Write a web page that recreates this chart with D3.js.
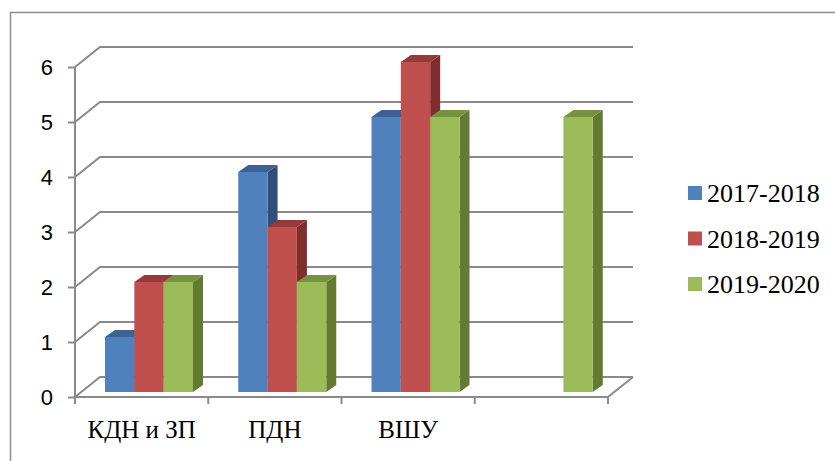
<!DOCTYPE html>
<html><head><meta charset="utf-8">
<script src="https://cdn.jsdelivr.net/npm/d3@7/dist/d3.min.js"></script>
<style>html,body{margin:0;padding:0;background:#fff;}svg{display:block;}</style>
</head><body>
<svg id="c" width="835" height="461"></svg>
<script>
const categories = ["КДН и ЗП", "ПДН", "ВШУ", ""];
const seriesNames = ["2017-2018", "2018-2019", "2019-2020"];
const s2017 = [1, 4, 5, null];
const s2018 = [2, 3, 6, null];
const s2019 = [2, 2, 5, 5];
const yTicks = [0, 1, 2, 3, 4, 5, 6];
const seriesValues = [s2017, s2018, s2019];
const colors = [
  {front:"#4F81BD", top:"#3C6294", side:"#2F4F78"},
  {front:"#C0504D", top:"#96393A", side:"#7E2E2D"},
  {front:"#9BBB59", top:"#77923F", side:"#637A33"}
];
const serif = "'Liberation Serif','Times New Roman','DejaVu Serif',serif";

const svg = d3.select("#c");
svg.append("path").attr("d","M10.5,470 L10.5,12.5 L845,12.5").attr("fill","none").attr("stroke","#8c8c8c").attr("stroke-width",1.5);

const x0 = 75, x1 = 608, yBase = 397;
const depthX = 25, depthY = 20;
const x = d3.scaleBand().domain(categories).range([x0, x1]).paddingInner(0).paddingOuter(0);
const y = d3.scaleLinear().domain([0, 6]).range([yBase, yBase - 330]);
const xs = d3.scaleBand().domain(seriesNames).range([0, 88]);
const gridColor = "#8a8a8a";

const g = svg.append("g");
yTicks.forEach(t => {
  const yy = y(t);
  g.append("path")
    .attr("d", `M${x0},${yy} L${x0+depthX},${yy-depthY} L${x1+depthX},${yy-depthY}`)
    .attr("fill","none").attr("stroke",gridColor).attr("stroke-width",2);
});
g.append("path").attr("d",`M${x0},${yBase} L${x1},${yBase} L${x1+depthX},${yBase-depthY}`)
  .attr("fill","none").attr("stroke",gridColor).attr("stroke-width",2);
g.append("line").attr("x1",x0).attr("x2",x0).attr("y1",y(6)).attr("y2",yBase)
  .attr("stroke",gridColor).attr("stroke-width",2);

const yAxis = d3.axisLeft(y).tickValues(yTicks).tickSize(7).tickPadding(15).tickFormat(d3.format("d"));
const ya = svg.append("g").attr("transform",`translate(${x0},0)`).call(yAxis);
ya.select(".domain").remove();
ya.selectAll(".tick line").attr("stroke",gridColor).attr("stroke-width",2);
ya.selectAll(".tick text").style("font-family","'Liberation Sans', Arial, sans-serif").style("font-size","22px").attr("fill","#000");

const xAxis = d3.axisBottom(x).tickSize(0).tickPadding(0);
const xa = svg.append("g").attr("transform",`translate(0,${yBase})`).call(xAxis);
xa.select(".domain").remove();
xa.selectAll(".tick text").attr("dy",0).attr("y",41)
  .style("font-family",serif).style("font-size","25px").attr("fill","#000");
const boundaries = categories.map(c => x(c)).concat([x1]);
svg.append("g").selectAll("line").data(boundaries).join("line")
  .attr("x1",d=>d).attr("x2",d=>d).attr("y1",yBase).attr("y2",yBase+7)
  .attr("stroke",gridColor).attr("stroke-width",2);

const bx = 10, by = 7, baseY = yBase - 5;
const yb = d3.scaleLinear().domain([0, 6]).range([baseY, baseY - 330]);
const bars = svg.append("g");
categories.forEach((cat, ci) => {
  seriesNames.forEach((sn, si) => {
    const v = seriesValues[si][ci];
    if (v == null) return;
    const left = x(cat) + 30 + xs(sn);
    const w = xs.bandwidth();
    const top = yb(v);
    const c = colors[si];
    bars.append("path").attr("d",`M${left+w},${top} L${left+w+bx},${top-by} L${left+w+bx},${baseY-by} L${left+w},${baseY} Z`).attr("fill",c.side);
    bars.append("path").attr("d",`M${left},${top} L${left+bx},${top-by} L${left+w+bx},${top-by} L${left+w},${top} Z`).attr("fill",c.top);
    bars.append("rect").attr("x",left).attr("y",top).attr("width",w).attr("height",baseY-top).attr("fill",c.front);
  });
});

const legendY = d3.scalePoint().domain(seriesNames).range([193, 284]);
const lg = svg.append("g");
seriesNames.forEach((sn, i) => {
  const cy = legendY(sn);
  lg.append("rect").attr("x",688).attr("y",cy-7).attr("width",14).attr("height",14).attr("fill",colors[i].front);
  lg.append("text").attr("x",707).attr("y",cy+9).text(sn)
    .style("font-family",serif).style("font-size","26px").attr("fill","#000");
});
</script>
</body></html>
